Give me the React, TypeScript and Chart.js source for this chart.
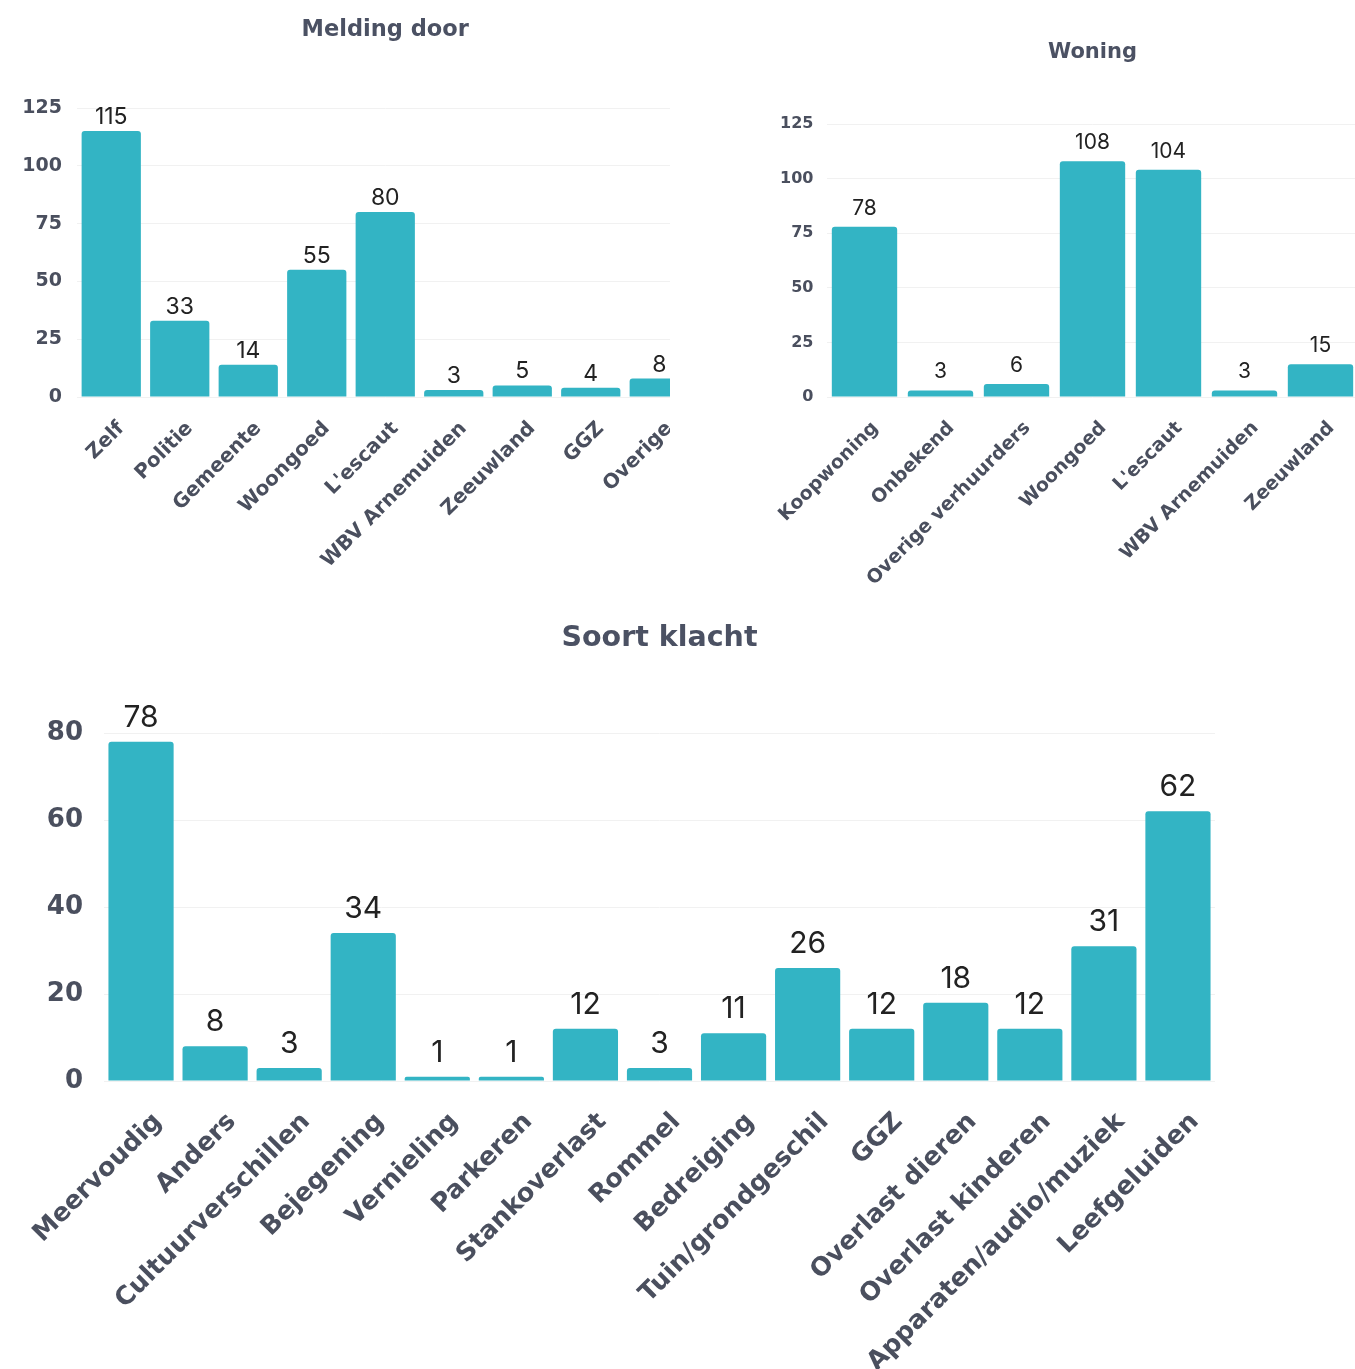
import React, { useEffect, useRef } from "react";
import { Chart, registerables } from "chart.js";

Chart.register(...registerables);

// ---------- data ----------
const meldingLabels = ["Zelf", "Politie", "Gemeente", "Woongoed", "L'escaut", "WBV Arnemuiden", "Zeeuwland", "GGZ", "Overige"];
const meldingValues = [115, 33, 14, 55, 80, 3, 5, 4, 8];
const meldingTicks = [0, 25, 50, 75, 100, 125];

const woningLabels = ["Koopwoning", "Onbekend", "Overige verhuurders", "Woongoed", "L'escaut", "WBV Arnemuiden", "Zeeuwland"];
const woningValues = [78, 3, 6, 108, 104, 3, 15];
const woningTicks = [0, 25, 50, 75, 100, 125];

const klachtLabels = [
  "Meervoudig", "Anders", "Cultuurverschillen", "Bejegening", "Vernieling", "Parkeren",
  "Stankoverlast", "Rommel", "Bedreiging", "Tuin/grondgeschil", "GGZ", "Overlast dieren",
  "Overlast kinderen", "Apparaten/audio/muziek", "Leefgeluiden",
];
const klachtValues = [78, 8, 3, 34, 1, 1, 12, 3, 11, 26, 12, 18, 12, 31, 62];
const klachtTicks = [0, 20, 40, 60, 80];

// ---------- styling ----------
const FONT = 'Inter, "Open Sans", "DejaVu Sans", sans-serif';
const WIDE = '"DejaVu Sans", Inter, sans-serif';
const BAR = "#33b4c4";
const TICK = "#4a4f5e";
const TITLE = "#4b5163";
const GRID = "#f1f1f1";

const valueLabels = {
  id: "valueLabels",
  afterDatasetsDraw(chart: any, _args: any, opts: any) {
    const { ctx } = chart;
    const meta = chart.getDatasetMeta(0);
    const data = chart.data.datasets[0].data;
    ctx.save();
    ctx.font = `400 ${opts.size}px ${FONT}`;
    ctx.fillStyle = "#222222";
    ctx.textAlign = "center";
    ctx.textBaseline = "alphabetic";
    meta.data.forEach((el: any, i: number) => {
      ctx.fillText(String(data[i]), el.x, el.y - opts.gap);
    });
    ctx.restore();
  },
};

type Spec = {
  title: string;
  labels: string[];
  values: number[];
  ticks: number[];
  w: number;
  h: number;
  yWidth: number;
  bottom: number;
  padRight: number;
  titleSize: number;
  titlePadTop: number;
  titlePadBottom: number;
  yFont: number;
  yPad: number;
  xFont: number;
  xPad: number;
  xOffset: number;
  valSize: number;
  valGap: number;
  barPct: number;
};

function makeConfig(s: Spec): any {
  const max = s.ticks[s.ticks.length - 1];
  return {
    type: "bar",
    data: {
      labels: s.labels,
      datasets: [
        {
          data: s.values,
          backgroundColor: BAR,
          borderRadius: 3,
          borderSkipped: "bottom",
          categoryPercentage: 1,
          barPercentage: s.barPct,
        },
      ],
    },
    plugins: [valueLabels],
    options: {
      responsive: false,
      animation: false,
      layout: { padding: { left: 0, right: s.padRight, top: 0, bottom: 0 } },
      plugins: {
        legend: { display: false },
        tooltip: { enabled: false },
        title: {
          display: true,
          text: s.title,
          fullSize: false,
          color: TITLE,
          font: { family: WIDE, size: s.titleSize, weight: "bold", lineHeight: 1.2 },
          padding: { top: s.titlePadTop, bottom: s.titlePadBottom },
        },
        valueLabels: { size: s.valSize, gap: s.valGap },
      },
      scales: {
        x: {
          offset: true,
          grid: { display: false, drawTicks: false },
          border: { display: false },
          ticks: {
            autoSkip: false,
            minRotation: 45,
            maxRotation: 45,
            padding: s.xPad,
            labelOffset: s.xOffset,
            color: TICK,
            font: { family: WIDE, size: s.xFont, weight: "bold" },
          },
          afterFit: (sc: any) => {
            sc.height = s.h - s.bottom;
            sc.paddingLeft = 0;
            sc.paddingRight = 0;
          },
        },
        y: {
          min: 0,
          max,
          grid: { color: GRID, lineWidth: 1, drawTicks: false },
          border: { display: false },
          ticks: {
            padding: s.yPad,
            color: TICK,
            font: { family: WIDE, size: s.yFont, weight: "bold" },
          },
          afterBuildTicks: (sc: any) => {
            sc.ticks = s.ticks.map((v) => ({ value: v }));
          },
          afterFit: (sc: any) => {
            sc.width = s.yWidth;
          },
        },
      },
    },
  };
}

function BarChart({ spec, left, top, clipW, clipH }: { spec: Spec; left: number; top: number; clipW: number; clipH: number }) {
  const ref = useRef<HTMLCanvasElement | null>(null);
  useEffect(() => {
    if (!ref.current) return;
    const chart = new Chart(ref.current, makeConfig(spec));
    return () => chart.destroy();
  }, []);
  return (
    <div style={{ position: "absolute", left, top, width: clipW, height: clipH, overflow: "hidden" }}>
      <canvas ref={ref} width={spec.w} height={spec.h} style={{ width: spec.w, height: spec.h, display: "block" }} />
    </div>
  );
}

const meldingSpec: Spec = {
  title: "Melding door",
  labels: meldingLabels,
  values: meldingValues,
  ticks: meldingTicks,
  w: 700,
  h: 600,
  yWidth: 77,
  bottom: 397,
  padRight: 6.5,
  titleSize: 22.5,
  titlePadTop: 17,
  titlePadBottom: 64,
  yFont: 19,
  yPad: 15,
  xFont: 20,
  xPad: 20,
  xOffset: 10,
  valSize: 23,
  valGap: 7,
  barPct: 0.865,
};

const woningSpec: Spec = {
  title: "Woning",
  labels: woningLabels,
  values: woningValues,
  ticks: woningTicks,
  w: 680,
  h: 600,
  yWidth: 146.5,
  bottom: 397,
  padRight: 1.5,
  titleSize: 21,
  titlePadTop: 40,
  titlePadBottom: 58.8,
  yFont: 16,
  yPad: 13,
  xFont: 19,
  xPad: 20,
  xOffset: 11,
  valSize: 21,
  valGap: 12,
  barPct: 0.86,
};

const klachtSpec: Spec = {
  title: "Soort klacht",
  labels: klachtLabels,
  values: klachtValues,
  ticks: klachtTicks,
  w: 1355,
  h: 769,
  yWidth: 104,
  bottom: 481,
  padRight: 140,
  titleSize: 28.5,
  titlePadTop: 21.5,
  titlePadBottom: 77.3,
  yFont: 26,
  yPad: 21,
  xFont: 25.5,
  xPad: 26,
  xOffset: 17,
  valSize: 30,
  valGap: 15,
  barPct: 0.88,
};

export default function App() {
  return (
    <div style={{ position: "absolute", left: 0, top: 0, width: 1355, height: 1369, background: "#ffffff", overflow: "hidden" }}>
      <BarChart spec={meldingSpec} left={0} top={0} clipW={670} clipH={600} />
      <BarChart spec={woningSpec} left={680} top={0} clipW={675} clipH={600} />
      <BarChart spec={klachtSpec} left={0} top={600} clipW={1355} clipH={769} />
    </div>
  );
}
